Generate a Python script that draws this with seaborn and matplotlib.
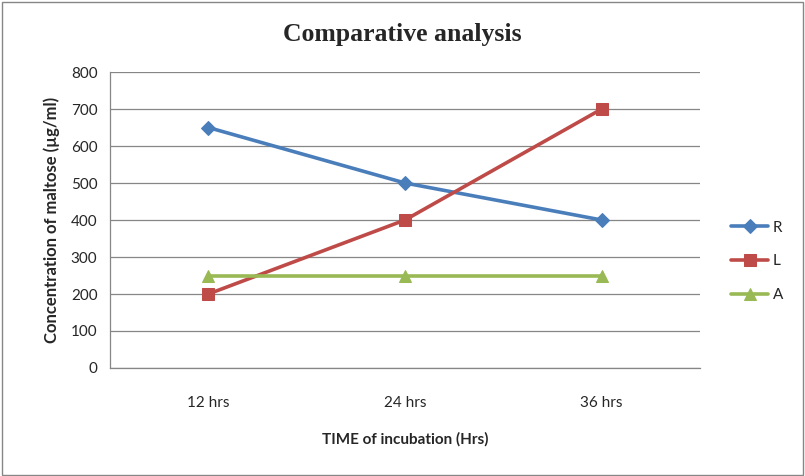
import matplotlib
matplotlib.use("Agg")
import matplotlib.pyplot as plt
import seaborn as sns
import pandas as pd
from matplotlib.patches import Rectangle

categories = ["12 hrs", "24 hrs", "36 hrs"]
series_names = ["R", "L", "A"]
R_values = [650, 500, 400]
L_values = [200, 400, 700]
A_values = [250, 250, 250]
y_ticks = [0, 100, 200, 300, 400, 500, 600, 700, 800]

colors = {"R": "#4A7EBB", "L": "#BE4B48", "A": "#98B954"}
markers = {"R": "D", "L": "s", "A": "^"}
msizes = {"R": 7, "L": 9, "A": 9}

rows = []
for name, vals in zip(series_names, [R_values, L_values, A_values]):
    for i, v in enumerate(vals):
        rows.append({"x": i, "y": v, "series": name})
df = pd.DataFrame(rows)

sns.set_style("white")
plt.rcParams["font.family"] = ["Lato", "DejaVu Sans"]

fig = plt.figure(figsize=(8.05, 4.76), dpi=100)
ax = fig.add_axes([0.1366, 0.2269, 0.733, 0.6218])

for name in series_names:
    sub = df[df["series"] == name]
    sns.lineplot(data=sub, x="x", y="y", ax=ax, color=colors[name],
                 marker=markers[name], markersize=msizes[name],
                 markeredgecolor=colors[name], linewidth=2.6, label=name)

ax.set_xlim(-0.5, 2.5)
ax.set_ylim(0, 800)
ax.set_yticks(y_ticks)
ax.set_xticks(range(len(categories)))
ax.set_xticklabels(categories)
ax.set_xticks([-0.5, 0.5, 1.5, 2.5], minor=True)
ax.tick_params(axis="x", which="major", length=0, pad=20, labelsize=11)
ax.tick_params(axis="x", which="minor", length=5, color="#868686", direction="out")
ax.tick_params(axis="y", length=5, color="#868686", direction="out", labelsize=11, pad=4)
ax.yaxis.grid(True, color="#868686", linewidth=0.9)
ax.set_axisbelow(True)
for s in ["top", "right"]:
    ax.spines[s].set_visible(False)
for s in ["left", "bottom"]:
    ax.spines[s].set_color("#868686")
    ax.spines[s].set_linewidth(0.9)

ax.set_xlabel("TIME of incubation (Hrs)", fontsize=11, fontweight="bold", labelpad=16)
ax.set_ylabel("Concentration of maltose (µg/ml)", fontsize=12, fontweight="bold", labelpad=8)
fig.text(0.5, 0.927, "Comparative analysis", ha="center", va="center",
         fontsize=18.5, fontweight="bold", family=["Liberation Serif", "DejaVu Serif"])

leg = ax.legend(loc="center left", bbox_to_anchor=(1.03, 0.36), frameon=False,
                fontsize=11, handlelength=2.4, labelspacing=1.3, handletextpad=0.3)

fig.add_artist(Rectangle((0.002, 0.003), 0.995, 0.993, transform=fig.transFigure,
                         fill=False, edgecolor="#868686", linewidth=1))

fig.savefig("out.png", dpi=100)
